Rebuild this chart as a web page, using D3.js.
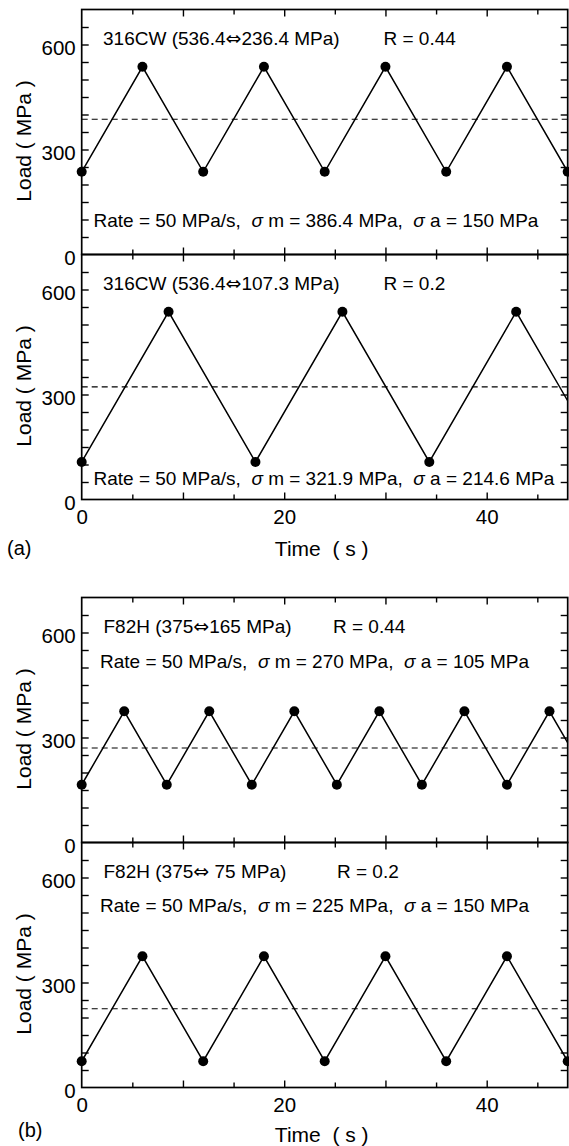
<!DOCTYPE html>
<html>
<head>
<meta charset="utf-8">
<script src="https://cdn.jsdelivr.net/npm/d3@7"></script>
<style>
  body { margin: 0; background: #fff; }
  svg { display: block; font-family: "Liberation Sans", Arial, Helvetica, sans-serif; }
  text { white-space: pre; }
</style>
</head>
<body>
<svg id="chart"></svg>
<script>
// panel texts
const materials = ["316CW (536.4⇔236.4 MPa)", "316CW (536.4⇔107.3 MPa)", "F82H (375⇔165 MPa)", "F82H (375⇔ 75 MPa)"];
const ratios = ["R = 0.44", "R = 0.2", "R = 0.44", "R = 0.2"];
const rates = [50, 50, 50, 50];
const meanLoads = [386.4, 321.9, 270, 225];
const ampLoads = [150, 214.6, 105, 150];
const figLabels = ["(a)", "(b)"];

// turning points of the load signals
const time1 = [0, 6, 12, 18, 24, 30, 36, 42, 48];
const load1 = [236.4, 536.4, 236.4, 536.4, 236.4, 536.4, 236.4, 536.4, 236.4];
const time2 = [0, 8.58, 17.16, 25.75, 34.33, 42.91, 51.49];
const load2 = [107.3, 536.4, 107.3, 536.4, 107.3, 536.4, 107.3];
const time3 = [0, 4.2, 8.4, 12.6, 16.8, 21, 25.2, 29.4, 33.6, 37.8, 42, 46.2, 50.4];
const load3 = [165, 375, 165, 375, 165, 375, 165, 375, 165, 375, 165, 375, 165];
const time4 = [0, 6, 12, 18, 24, 30, 36, 42, 48];
const load4 = [75, 375, 75, 375, 75, 375, 75, 375, 75];

// ticks
const timeDomain = [0, 48];
const loadDomain = [0, 700];
const timeLabels = [0, 20, 40];
const timeMajor = [10, 20, 30, 40];
const timeMinor = [5, 15, 25, 35, 45];
const loadLabels = [0, 300, 600];
const loadMinor = [50, 100, 150, 200, 250, 300, 350, 400, 450, 500, 550, 600, 650];

const series = [[time1, load1], [time2, load2], [time3, load3], [time4, load4]];

const width = 569, height = 1146;
const svg = d3.select("#chart").attr("width", width).attr("height", height);

const left = 81.7, right = 567.7, panelH = 245;
const panelTop = [9.5, 254.5, 597.5, 842.5];
const titleX = [103, 103, 103.5, 103.5];
const rX = [383.5, 383.5, 333, 337];
const rateX = [93.5, 93.5, 100, 100];
const rateY = [217.5, 230.5, 70.5, 69.5];
const timeTitleY = [56, 54];
const figLabelX = [7, 18];
const figLabelY = [55.5, 49.5];

const x = d3.scaleLinear().domain(timeDomain).range([left, right]);

series.forEach(([times, loads], i) => {
  const top = panelTop[i], bottom = top + panelH;
  const y = d3.scaleLinear().domain(loadDomain).range([bottom, top]);
  const g = svg.append("g");

  // clip for the signal line
  const clipId = "clip" + i;
  svg.append("clipPath").attr("id", clipId)
    .append("rect").attr("x", left).attr("y", top).attr("width", right - left).attr("height", panelH);

  // inward ticks on all four sides
  const tickAxis = (axis, tx, ty) => {
    g.append("g").attr("transform", `translate(${tx},${ty})`)
      .call(axis.tickFormat(""))
      .call(s => s.select(".domain").remove())
      .selectAll("line").attr("stroke", "#000").attr("stroke-width", 1.4);
  };
  tickAxis(d3.axisBottom(x).tickValues(timeMinor).tickSize(-5), 0, bottom);
  tickAxis(d3.axisBottom(x).tickValues(timeMajor).tickSize(-7), 0, bottom);
  tickAxis(d3.axisTop(x).tickValues(timeMinor).tickSize(-5), 0, top);
  tickAxis(d3.axisTop(x).tickValues(timeMajor).tickSize(-7), 0, top);
  tickAxis(d3.axisLeft(y).tickValues(loadMinor).tickSize(-7), left, 0);
  tickAxis(d3.axisRight(y).tickValues(loadMinor).tickSize(-7), right, 0);

  // y labels
  g.append("g").attr("transform", `translate(${left},0)`)
    .call(d3.axisLeft(y).tickValues(loadLabels).tickSize(0).tickPadding(6))
    .call(s => s.select(".domain").remove())
    .selectAll("text").attr("font-size", 20.5).attr("font-family", null).attr("fill", "#000").attr("dy", "0.5em");

  // x labels on lower panel of each figure
  if (i % 2 === 1) {
    const f = (i - 1) / 2;
    g.append("g").attr("transform", `translate(0,${bottom})`)
      .call(d3.axisBottom(x).tickValues(timeLabels).tickSize(0).tickPadding(10))
      .call(s => s.select(".domain").remove())
      .selectAll("text").attr("font-size", 20.5).attr("font-family", null).attr("fill", "#000");
    g.append("text")
      .attr("x", (left + right) / 2 - 3).attr("y", bottom + timeTitleY[f])
      .attr("text-anchor", "middle").attr("font-size", 21)
      .text("Time  ( s )");
    g.append("text")
      .attr("x", figLabelX[f]).attr("y", bottom + figLabelY[f])
      .attr("font-size", 20)
      .text(figLabels[f]);
  }

  // y axis title
  g.append("text")
    .attr("transform", `translate(31,${(top + bottom) / 2 + 9}) rotate(-90)`)
    .attr("text-anchor", "middle").attr("font-size", 21)
    .text("Load ( MPa )");

  // mean load (dashed)
  g.append("line")
    .attr("x1", left).attr("x2", right)
    .attr("y1", y(meanLoads[i])).attr("y2", y(meanLoads[i]))
    .attr("stroke", "#000").attr("stroke-width", 1.1).attr("stroke-dasharray", "6,4");

  // load signal
  const pts = times.map((t, k) => [t, loads[k]]);
  g.append("path")
    .attr("clip-path", `url(#${clipId})`)
    .attr("d", d3.line().x(d => x(d[0])).y(d => y(d[1]))(pts))
    .attr("fill", "none").attr("stroke", "#000").attr("stroke-width", 1.5);

  g.selectAll("circle.pt").data(pts.filter(d => d[0] <= timeDomain[1]))
    .join("circle").attr("class", "pt")
    .attr("cx", d => x(d[0])).attr("cy", d => y(d[1])).attr("r", 5)
    .attr("fill", "#000");

  // frame
  g.append("rect")
    .attr("x", left).attr("y", top).attr("width", right - left).attr("height", panelH)
    .attr("fill", "none").attr("stroke", "#000").attr("stroke-width", 1.7);

  // annotations
  const [matA, matB] = materials[i].split("⇔");
  const title = g.append("text").attr("x", titleX[i]).attr("y", top + 35.5).attr("font-size", 19);
  title.append("tspan").text(matA);
  title.append("tspan").attr("font-family", "DejaVu Sans").text("⇔");
  title.append("tspan").text(matB);
  g.append("text").attr("x", rX[i]).attr("y", top + 35.5).attr("font-size", 19).text(ratios[i]);

  const rate = g.append("text").attr("x", rateX[i]).attr("y", top + rateY[i]).attr("font-size", 19);
  rate.append("tspan").text(`Rate = ${rates[i]} MPa/s,  `);
  rate.append("tspan").attr("font-style", "italic").text("σ");
  rate.append("tspan").text(` m = ${meanLoads[i]} MPa,  `);
  rate.append("tspan").attr("font-style", "italic").text("σ");
  rate.append("tspan").text(` a = ${ampLoads[i]} MPa`);
});
</script>
</body>
</html>
